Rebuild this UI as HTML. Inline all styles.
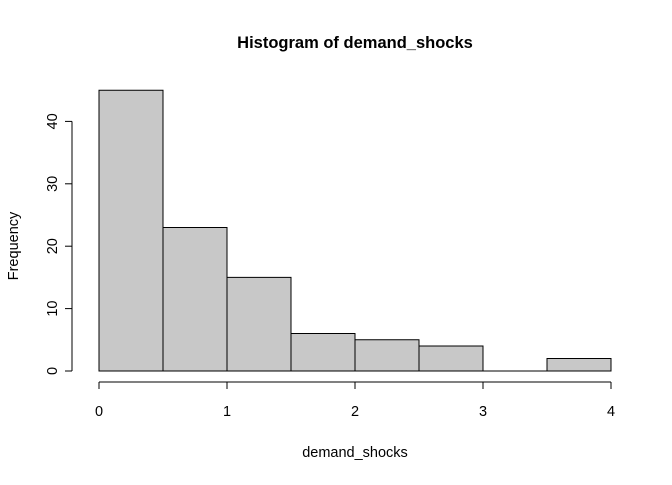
<!DOCTYPE html>
<html><head><style>body{margin:0;background:#fff}svg text{font-family:"Liberation Sans",Arial,sans-serif}</style></head>
<body>
<svg id="chart" width="672" height="480" xmlns="http://www.w3.org/2000/svg">
<text x="355" y="48" text-anchor="middle" font-size="16.5" font-weight="bold">Histogram of demand_shocks</text>
<text x="355" y="457" text-anchor="middle" font-size="14.5">demand_shocks</text>
<text x="18" y="246" text-anchor="middle" font-size="14.5" transform="rotate(-90 18 246)">Frequency</text>
<g id="bars"></g><g id="axes"></g>
</svg>
<script>
const binEdges=[0,0.5,1,1.5,2,2.5,3,3.5,4];
const counts=[45,23,15,6,5,4,0,2];
const xTicks=[0,1,2,3,4];
const yTicks=[0,10,20,30,40];
const ns="http://www.w3.org/2000/svg";
const X=v=>99+v*128, Y=v=>371-v*6.24;
function mk(t,a,p){const e=document.createElementNS(ns,t);for(const k in a)e.setAttribute(k,a[k]);p.appendChild(e);return e;}
const bars=document.getElementById('bars'),axes=document.getElementById('axes');
counts.forEach((c,i)=>{const x0=X(binEdges[i]),x1=X(binEdges[i+1]),y0=Y(0),y1=Y(c);
const r=mk('path',{d:`M${x0},${y0}L${x0},${y1}L${x1},${y1}L${x1},${y0}Z`,fill:'#c8c8c8',stroke:'#000','stroke-width':1},bars);

});
const xl=mk('line',{x1:X(xTicks[0]),x2:X(xTicks[xTicks.length-1]),y1:382,y2:382,stroke:'#000'},axes);


xTicks.forEach(v=>{mk('line',{x1:X(v),x2:X(v),y1:382,y2:389,stroke:'#000'},axes);
const t=mk('text',{x:X(v),y:416,'text-anchor':'middle','font-size':14.5},axes);t.textContent=v;

});
const yl=mk('line',{x1:72,x2:72,y1:Y(yTicks[0]),y2:Y(yTicks[yTicks.length-1]),stroke:'#000'},axes);


yTicks.forEach(v=>{mk('line',{x1:65,x2:72,y1:Y(v),y2:Y(v),stroke:'#000'},axes);
const t=mk('text',{x:57,y:Y(v),'text-anchor':'middle','font-size':14.5,transform:`rotate(-90 57 ${Y(v)})`},axes);t.textContent=v;

});
</script>
</body></html>
